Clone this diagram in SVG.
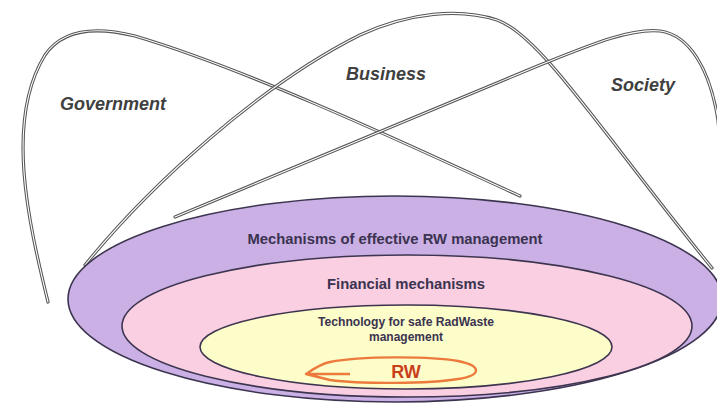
<svg xmlns="http://www.w3.org/2000/svg" width="717" height="403" viewBox="0 0 717 403">
<style>
.arcO{fill:none;stroke:#555;stroke-width:3.2;stroke-linecap:round}
.arcI{fill:none;stroke:#fff;stroke-width:1.1;stroke-linecap:round}
.ring{stroke:#3d3550;stroke-width:1.6}
.lbl{font-family:"Liberation Sans",Arial,sans-serif;font-weight:bold;font-style:italic;font-size:18px;fill:#404040}
.in{font-family:"Liberation Sans",Arial,sans-serif;font-weight:bold;fill:#3b3350;text-anchor:middle}
</style>
<rect width="717" height="403" fill="#fff"/>
<g id="connectors">
<path id="arc-government" class="arcO" d="M48,302 C28,220 5,120 45,55 C62,30 95,26 135,36 C250,70 420,150 520,196"/>
<path class="arcI" d="M48,302 C28,220 5,120 45,55 C62,30 95,26 135,36 C250,70 420,150 520,196"/>
<path id="arc-business" class="arcO" d="M85,265 C150,185 260,85 360,35 C410,12 460,8 497,20 C540,35 600,130 712,268"/>
<path class="arcI" d="M85,265 C150,185 260,85 360,35 C410,12 460,8 497,20 C540,35 600,130 712,268"/>
<path id="arc-society" class="arcO" d="M175,217 L540,65 C590,45 630,28 660,31 C690,35 710,70 718,120 L725,200"/>
<path class="arcI" d="M175,217 L540,65 C590,45 630,28 660,31 C690,35 710,70 718,120 L725,200"/>
</g>
<g id="government"><text class="lbl" x="60" y="110">Government</text></g>
<g id="business"><text class="lbl" x="346" y="80">Business</text></g>
<g id="society"><text class="lbl" x="611" y="91">Society</text></g>
<g id="mechanisms">
<ellipse class="ring" cx="395" cy="299" rx="327" ry="103" fill="#cab0e5"/>
<text class="in" x="395" y="244" font-size="14.6" textLength="295" lengthAdjust="spacingAndGlyphs">Mechanisms of effective RW management</text>
</g>
<g id="financial">
<ellipse class="ring" cx="407" cy="326" rx="285" ry="71" fill="#f9cfe1"/>
<text class="in" x="406" y="289" font-size="14.6" textLength="158" lengthAdjust="spacingAndGlyphs">Financial mechanisms</text>
</g>
<g id="technology">
<ellipse class="ring" cx="406" cy="347" rx="206" ry="42" fill="#fdfdca"/>
<text class="in" x="406" y="326" font-size="12" textLength="176" lengthAdjust="spacingAndGlyphs">Technology for safe RadWaste</text>
<text class="in" x="406" y="341" font-size="12">management</text>
</g>
<g id="rw">
<path d="M350,374 L306,374 C312,370 320,364 330,362 C360,356 430,356 458,361 C482,366 482,375 458,379 C430,384 360,384 330,380 L306,374" fill="none" stroke="#ec7a3c" stroke-width="2.4" stroke-linejoin="round"/>
<text x="406" y="378" font-family="Liberation Sans,Arial,sans-serif" font-weight="bold" font-size="18" fill="#c9401c" text-anchor="middle">RW</text>
</g>
</svg>
